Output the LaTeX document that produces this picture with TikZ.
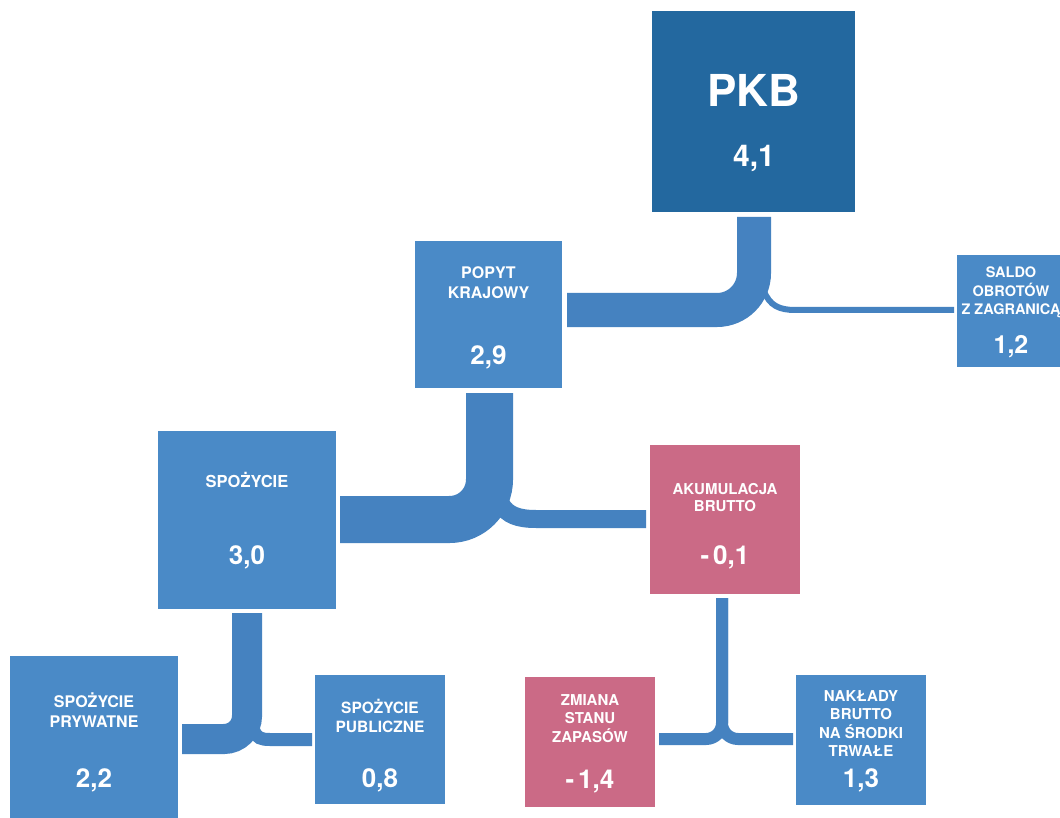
\documentclass[tikz,border=0pt]{standalone}
\usepackage{fontspec}
\setmainfont{TeX Gyre Heros}
\usetikzlibrary{calc}
\definecolor{pkbblue}{RGB}{35,104,159}
\definecolor{boxblue}{RGB}{74,138,199}
\definecolor{connblue}{RGB}{69,130,192}
\definecolor{boxpink}{RGB}{203,106,134}
\newcommand{\mlines}[1]{\begin{tabular}[t]{@{}c@{}}#1\end{tabular}}
\newcommand{\fsz}[2]{\fontsize{#1}{#2}\selectfont}
\begin{document}
\begin{tikzpicture}[x=1pt,y=-1pt,
  box/.style={draw=none, inner sep=0pt, outer sep=0pt, anchor=north west},
  bluebox/.style={box, fill=boxblue},
  pinkbox/.style={box, fill=boxpink},
  darkbox/.style={box, fill=pkbblue},
  txt/.style={text=white, inner sep=0pt, anchor=base},
  conn/.style={draw=connblue, line cap=butt},
]
\useasboundingbox (0,0) rectangle (1060,818);
\fill[white] (0,0) rectangle (1060,818);
\clip (0,0) rectangle (1060,818);

% boxes
\node[darkbox, minimum width=203pt, minimum height=201pt] (pkb) at (652,11) {};
\node[bluebox, minimum width=147pt, minimum height=147pt] (popyt) at (415,241) {};
\node[bluebox, minimum width=108pt, minimum height=112pt] (saldo) at (957,255) {};
\node[bluebox, minimum width=178pt, minimum height=178pt] (spoz) at (158,431) {};
\node[pinkbox, minimum width=150pt, minimum height=149pt] (akum) at (650,445) {};
\node[bluebox, minimum width=168pt, minimum height=168pt] (pryw) at (10,656) {};
\node[bluebox, minimum width=130pt, minimum height=129pt] (publ) at (315,675) {};
\node[pinkbox, minimum width=130pt, minimum height=130pt] (zmiana) at (525,677) {};
\node[bluebox, minimum width=130pt, minimum height=130pt] (naklady) at (796,675) {};

% texts
\node[txt, font=\bfseries\fsz{44}{48}] (pkb-t) at (753.5,107) {PKB};
\node[txt, font=\bfseries\fsz{30}{33}] (pkb-v) at (754,167) {4,1};

\node[txt, font=\bfseries\fsz{16}{19.5}] (popyt-t) at (488.5,279) {\mlines{POPYT\\KRAJOWY}};
\node[txt, font=\bfseries\fsz{26}{30}] (popyt-v) at (488.5,364) {2,9};

\node[txt, font=\bfseries\fsz{14.5}{17.5}] (saldo-t) at (1011,278) {\mlines{SALDO\\OBROTÓW\\Z ZAGRANICĄ}};
\node[txt, font=\bfseries\fsz{25}{30}] (saldo-v) at (1011,353) {1,2};

\node[txt, font=\bfseries\fsz{16.5}{20}] (spoz-t) at (247,487) {SPOŻYCIE};
\node[txt, font=\bfseries\fsz{26}{30}] (spoz-v) at (247,564) {3,0};

\node[txt, font=\bfseries\fsz{15}{17}] (akum-t) at (725,494) {\mlines{AKUMULACJA\\BRUTTO}};
\node[txt, font=\bfseries\fsz{26}{30}] (akum-v) at (725,564) {-\kern4pt0,1};

\node[txt, font=\bfseries\fsz{16}{20}] (pryw-t) at (94,707) {\mlines{SPOŻYCIE\\PRYWATNE}};
\node[txt, font=\bfseries\fsz{26}{30}] (pryw-v) at (94,787) {2,2};

\node[txt, font=\bfseries\fsz{15.5}{19}] (publ-t) at (380,713) {\mlines{SPOŻYCIE\\PUBLICZNE}};
\node[txt, font=\bfseries\fsz{26}{30}] (publ-v) at (380,787) {0,8};

\node[txt, font=\bfseries\fsz{15}{18}] (zmiana-t) at (590,705) {\mlines{ZMIANA\\STANU\\ZAPASÓW}};
\node[txt, font=\bfseries\fsz{26}{30}] (zmiana-v) at (590,788) {-\kern4pt1,4};

\node[txt, font=\bfseries\fsz{15}{18.3}] (naklady-t) at (861,701) {\mlines{NAKŁADY\\BRUTTO\\NA ŚRODKI\\TRWAŁE}};
\node[txt, font=\bfseries\fsz{26}{30}] (naklady-v) at (861,787) {1,3};

% connector PKB -> POPYT / SALDO
\draw[conn, line width=34pt, rounded corners=37pt] ($(pkb.south)+(0.5,5)$) |- ($(popyt.east)+(5,-4.5)$);
\draw[conn, line width=6pt] ($(pkb.south)+(10,78)$) .. controls ($(pkb.south)+(16,94)$) and ($(pkb.south)+(26,98)$) .. ($(pkb.south)+(42,98)$) -- ($(saldo.west)+(-3,-1)$);

% connector POPYT -> SPOZYCIE / AKUMULACJA
\draw[conn, line width=47pt, rounded corners=40pt] ($(popyt.south)+(1,5)$) |- ($(spoz.east)+(4,-0.5)$);
\draw[conn, line width=18pt] ($(popyt.south)+(12.5,116)$) .. controls ($(popyt.south)+(18.5,127)$) and ($(popyt.south)+(29.5,131)$) .. ($(popyt.south)+(47.5,131)$) -- ($(akum.west)+(-4,-0.5)$);

% connector SPOZYCIE -> PRYWATNE / PUBLICZNE
\draw[conn, line width=30pt, rounded corners=23pt] ($(spoz.south)+(0,4)$) |- ($(pryw.east)+(4,-1)$);
\draw[conn, line width=13pt] ($(spoz.south)+(7,122)$) .. controls ($(spoz.south)+(10,129)$) and ($(spoz.south)+(14,130.5)$) .. ($(spoz.south)+(23,130.5)$) -- ($(publ.west)+(-3,0)$);

% connector AKUMULACJA -> ZMIANA / NAKLADY
\draw[conn, line width=12pt, rounded corners=16pt] ($(akum.south)+(-3,4)$) |- ($(zmiana.east)+(4,-3)$);
\draw[conn, line width=12pt, rounded corners=16pt] ($(akum.south)+(-3,4)$) |- ($(naklady.west)+(-3,-1)$);
\end{tikzpicture}
\end{document}
